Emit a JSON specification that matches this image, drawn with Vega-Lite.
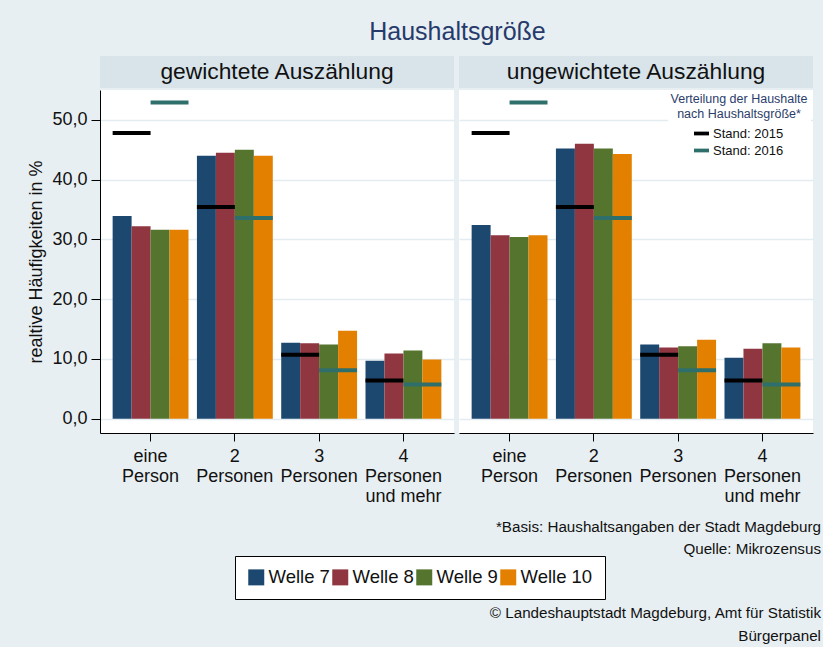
{
  "$schema": "https://vega.github.io/schema/vega-lite/v6.json",
  "background": "#e8eff2",
  "padding": {"left": 27, "top": 20, "right": 2, "bottom": 5},
  "config": {
    "font": "Liberation Sans",
    "view": {"stroke": null},
    "axis": {"labelFont": "Liberation Sans", "titleFont": "Liberation Sans", "labelColor": "#111", "titleColor": "#111"},
    "legend": {"labelFont": "Liberation Sans", "titleFont": "Liberation Sans"}
  },
  "datasets": {
    "bars": [
      {"Auswertung": "gewichtet", "Gruppe": "eine Person", "Welle": "Welle 7", "Wert": 33.9},
      {"Auswertung": "gewichtet", "Gruppe": "eine Person", "Welle": "Welle 8", "Wert": 32.2},
      {"Auswertung": "gewichtet", "Gruppe": "eine Person", "Welle": "Welle 9", "Wert": 31.6},
      {"Auswertung": "gewichtet", "Gruppe": "eine Person", "Welle": "Welle 10", "Wert": 31.6},
      {"Auswertung": "gewichtet", "Gruppe": "2 Personen", "Welle": "Welle 7", "Wert": 44.0},
      {"Auswertung": "gewichtet", "Gruppe": "2 Personen", "Welle": "Welle 8", "Wert": 44.5},
      {"Auswertung": "gewichtet", "Gruppe": "2 Personen", "Welle": "Welle 9", "Wert": 45.0},
      {"Auswertung": "gewichtet", "Gruppe": "2 Personen", "Welle": "Welle 10", "Wert": 44.0},
      {"Auswertung": "gewichtet", "Gruppe": "3 Personen", "Welle": "Welle 7", "Wert": 12.7},
      {"Auswertung": "gewichtet", "Gruppe": "3 Personen", "Welle": "Welle 8", "Wert": 12.6},
      {"Auswertung": "gewichtet", "Gruppe": "3 Personen", "Welle": "Welle 9", "Wert": 12.4},
      {"Auswertung": "gewichtet", "Gruppe": "3 Personen", "Welle": "Welle 10", "Wert": 14.7},
      {"Auswertung": "gewichtet", "Gruppe": "4 Personen und mehr", "Welle": "Welle 7", "Wert": 9.7},
      {"Auswertung": "gewichtet", "Gruppe": "4 Personen und mehr", "Welle": "Welle 8", "Wert": 10.9},
      {"Auswertung": "gewichtet", "Gruppe": "4 Personen und mehr", "Welle": "Welle 9", "Wert": 11.4},
      {"Auswertung": "gewichtet", "Gruppe": "4 Personen und mehr", "Welle": "Welle 10", "Wert": 9.9},
      {"Auswertung": "ungewichtet", "Gruppe": "eine Person", "Welle": "Welle 7", "Wert": 32.4},
      {"Auswertung": "ungewichtet", "Gruppe": "eine Person", "Welle": "Welle 8", "Wert": 30.7},
      {"Auswertung": "ungewichtet", "Gruppe": "eine Person", "Welle": "Welle 9", "Wert": 30.4},
      {"Auswertung": "ungewichtet", "Gruppe": "eine Person", "Welle": "Welle 10", "Wert": 30.7},
      {"Auswertung": "ungewichtet", "Gruppe": "2 Personen", "Welle": "Welle 7", "Wert": 45.2},
      {"Auswertung": "ungewichtet", "Gruppe": "2 Personen", "Welle": "Welle 8", "Wert": 46.0},
      {"Auswertung": "ungewichtet", "Gruppe": "2 Personen", "Welle": "Welle 9", "Wert": 45.2},
      {"Auswertung": "ungewichtet", "Gruppe": "2 Personen", "Welle": "Welle 10", "Wert": 44.3},
      {"Auswertung": "ungewichtet", "Gruppe": "3 Personen", "Welle": "Welle 7", "Wert": 12.4},
      {"Auswertung": "ungewichtet", "Gruppe": "3 Personen", "Welle": "Welle 8", "Wert": 11.9},
      {"Auswertung": "ungewichtet", "Gruppe": "3 Personen", "Welle": "Welle 9", "Wert": 12.1},
      {"Auswertung": "ungewichtet", "Gruppe": "3 Personen", "Welle": "Welle 10", "Wert": 13.2},
      {"Auswertung": "ungewichtet", "Gruppe": "4 Personen und mehr", "Welle": "Welle 7", "Wert": 10.2},
      {"Auswertung": "ungewichtet", "Gruppe": "4 Personen und mehr", "Welle": "Welle 8", "Wert": 11.7},
      {"Auswertung": "ungewichtet", "Gruppe": "4 Personen und mehr", "Welle": "Welle 9", "Wert": 12.6},
      {"Auswertung": "ungewichtet", "Gruppe": "4 Personen und mehr", "Welle": "Welle 10", "Wert": 11.9}
    ],
    "ref": [
      {"Gruppe": "eine Person", "Stand": "Stand: 2015", "Wert": 47.8},
      {"Gruppe": "eine Person", "Stand": "Stand: 2016", "Wert": 52.9},
      {"Gruppe": "2 Personen", "Stand": "Stand: 2015", "Wert": 35.4},
      {"Gruppe": "2 Personen", "Stand": "Stand: 2016", "Wert": 33.6},
      {"Gruppe": "3 Personen", "Stand": "Stand: 2015", "Wert": 10.7},
      {"Gruppe": "3 Personen", "Stand": "Stand: 2016", "Wert": 8.1},
      {"Gruppe": "4 Personen und mehr", "Stand": "Stand: 2015", "Wert": 6.4},
      {"Gruppe": "4 Personen und mehr", "Stand": "Stand: 2016", "Wert": 5.7}
    ]
  },
  "title": {"text": "Haushaltsgröße", "fontSize": 25, "fontWeight": "normal", "color": "#263a6c", "anchor": "middle", "offset": 11, "dx": 33},
  "vconcat": [
    {
      "title": {
        "text": ["© Landeshauptstadt Magdeburg, Amt für Statistik", "Bürgerpanel"],
        "orient": "bottom", "anchor": "end", "align": "right", "fontSize": 15.2, "fontWeight": "normal", "color": "#111", "lineHeight": 23, "offset": 49, "dx": 0
      },
      "vconcat": [
        {
          "title": {
            "text": ["*Basis: Haushaltsangaben der Stadt Magdeburg", "Quelle: Mikrozensus"],
            "orient": "bottom", "anchor": "end", "align": "right", "fontSize": 15.2, "fontWeight": "normal", "color": "#111", "lineHeight": 22, "offset": 15, "dx": 8
          },
          "spacing": 5,
          "hconcat": [
            {
              "spacing": 2,
              "vconcat": [
                {
                  "width": 354, "height": 32,
                  "view": {"fill": "#d8e4ea", "stroke": null},
                  "data": {"values": [{"t": "gewichtete Auszählung"}]},
                  "mark": {"type": "text", "fontSize": 22.8, "color": "#111"},
                  "encoding": {"text": {"field": "t"}}
                },
                {
                  "width": 354, "height": 343,
                  "view": {"fill": "white", "stroke": null},
                  "resolve": {"scale": {"xOffset": "independent"}},
                  "layer": [
                    {
                      "data": {"name": "bars"},
                      "transform": [{"filter": "datum.Auswertung === 'gewichtet'"}],
                      "mark": {"type": "bar"},
                      "encoding": {
                        "x": {"field": "Gruppe", "type": "nominal", "sort": ["eine Person", "2 Personen", "3 Personen", "4 Personen und mehr"],
                          "scale": {"paddingInner": 0.1, "paddingOuter": 0.15},
                          "axis": {"title": null, "labelAngle": 0, "domainColor": "black", "tickColor": "black", "tickSize": 8, "labelFontSize": 18, "labelLineHeight": 20, "labelPadding": 6, "labelBaseline": "top",
                            "labelExpr": "datum.value === 'eine Person' ? ['eine', 'Person'] : datum.value === '4 Personen und mehr' ? ['4', 'Personen', 'und mehr'] : split(datum.value, ' ')"}},
                        "xOffset": {"field": "Welle", "type": "nominal", "sort": ["Welle 7", "Welle 8", "Welle 9", "Welle 10"], "scale": {"paddingInner": 0, "paddingOuter": 0}},
                        "y": {"field": "Wert", "type": "quantitative", "scale": {"domain": [-2.4, 55], "nice": false, "zero": false},
                          "axis": {"title": "realtive Häufigkeiten in %", "titleFontSize": 18, "titleFontWeight": "normal", "titlePadding": 6,
                            "values": [0, 5, 10, 15, 20, 25, 30, 35, 40, 45, 50, 55],
                            "labelExpr": "datum.value % 10 === 0 ? replace(format(datum.value, '.1f'), '.', ',') : ''",
                            "labelFontSize": 18, "labelPadding": 4, "tickSize": 9, "tickColor": "black", "domainColor": "black",
                            "grid": true, "gridColor": "#e3ecf0", "gridWidth": 1.5}},
                        "y2": {"datum": 0},
                        "color": {"field": "Welle", "type": "nominal", "sort": ["Welle 7", "Welle 8", "Welle 9", "Welle 10"],
                          "scale": {"domain": ["Welle 7", "Welle 8", "Welle 9", "Welle 10"], "range": ["#1c476f", "#8f3640", "#55752f", "#e38000"]},
                          "legend": {"orient": "none", "legendX": 135, "legendY": 500, "direction": "horizontal", "title": null, "fillColor": "white", "strokeColor": "black", "padding": 12,
                            "symbolType": "square", "symbolSize": 256, "symbolStrokeWidth": 0, "labelFontSize": 18.5, "labelOffset": 3, "columnPadding": 1, "labelColor": "#111"}}
                      }
                    },
                    {
                      "data": {"name": "ref"},
                      "mark": {"type": "bar", "yOffset": -2, "y2Offset": 2},
                      "encoding": {
                        "x": {"field": "Gruppe", "type": "nominal", "sort": ["eine Person", "2 Personen", "3 Personen", "4 Personen und mehr"]},
                        "xOffset": {"field": "Stand", "type": "nominal", "scale": {"paddingInner": 0, "paddingOuter": 0}},
                        "y": {"field": "Wert", "type": "quantitative"},
                        "y2": {"field": "Wert"},
                        "fill": {"field": "Stand", "type": "nominal",
                          "scale": {"domain": ["Stand: 2015", "Stand: 2016"], "range": ["#000000", "#2f6f6b"]},
                          "legend": {"orient": "none", "legendX": 568, "legendY": 34, "title": ["Verteilung der Haushalte", "nach Haushaltsgröße*"],
                            "titleFontSize": 12.5, "titleFontWeight": "normal", "titleColor": "#2b3d6b", "titleAlign": "center", "titleAnchor": "middle", "titlePadding": 6,
                            "fillColor": "white", "padding": 3, "symbolType": "M-1,-0.25H1V0.25H-1Z", "symbolSize": 225, "symbolStrokeWidth": 0, "labelFontSize": 13, "labelColor": "#111", "rowPadding": 2}}
                      }
                    }
                  ]
                }
              ]
            },
            {
              "spacing": 2,
              "vconcat": [
                {
                  "width": 354, "height": 32,
                  "view": {"fill": "#d8e4ea", "stroke": null},
                  "data": {"values": [{"t": "ungewichtete Auszählung"}]},
                  "mark": {"type": "text", "fontSize": 22.8, "color": "#111"},
                  "encoding": {"text": {"field": "t"}}
                },
                {
                  "width": 354, "height": 343,
                  "view": {"fill": "white", "stroke": null},
                  "resolve": {"scale": {"xOffset": "independent"}},
                  "layer": [
                    {
                      "data": {"name": "bars"},
                      "transform": [{"filter": "datum.Auswertung === 'ungewichtet'"}],
                      "mark": {"type": "bar"},
                      "encoding": {
                        "x": {"field": "Gruppe", "type": "nominal", "sort": ["eine Person", "2 Personen", "3 Personen", "4 Personen und mehr"],
                          "scale": {"paddingInner": 0.1, "paddingOuter": 0.15},
                          "axis": {"title": null, "labelAngle": 0, "domainColor": "black", "tickColor": "black", "tickSize": 8, "labelFontSize": 18, "labelLineHeight": 20, "labelPadding": 6, "labelBaseline": "top",
                            "labelExpr": "datum.value === 'eine Person' ? ['eine', 'Person'] : datum.value === '4 Personen und mehr' ? ['4', 'Personen', 'und mehr'] : split(datum.value, ' ')"}},
                        "xOffset": {"field": "Welle", "type": "nominal", "sort": ["Welle 7", "Welle 8", "Welle 9", "Welle 10"], "scale": {"paddingInner": 0, "paddingOuter": 0}},
                        "y": {"field": "Wert", "type": "quantitative", "scale": {"domain": [-2.4, 55], "nice": false, "zero": false},
                          "axis": {"title": null, "labels": false, "ticks": false, "domain": false,
                            "values": [0, 5, 10, 15, 20, 25, 30, 35, 40, 45, 50, 55],
                            "grid": true, "gridColor": "#e3ecf0", "gridWidth": 1.5}},
                        "y2": {"datum": 0},
                        "color": {"field": "Welle", "type": "nominal", "sort": ["Welle 7", "Welle 8", "Welle 9", "Welle 10"],
                          "scale": {"domain": ["Welle 7", "Welle 8", "Welle 9", "Welle 10"], "range": ["#1c476f", "#8f3640", "#55752f", "#e38000"]}}
                      }
                    },
                    {
                      "data": {"name": "ref"},
                      "mark": {"type": "bar", "yOffset": -2, "y2Offset": 2},
                      "encoding": {
                        "x": {"field": "Gruppe", "type": "nominal", "sort": ["eine Person", "2 Personen", "3 Personen", "4 Personen und mehr"]},
                        "xOffset": {"field": "Stand", "type": "nominal", "scale": {"paddingInner": 0, "paddingOuter": 0}},
                        "y": {"field": "Wert", "type": "quantitative"},
                        "y2": {"field": "Wert"},
                        "fill": {"field": "Stand", "type": "nominal",
                          "scale": {"domain": ["Stand: 2015", "Stand: 2016"], "range": ["#000000", "#2f6f6b"]}}
                      }
                    }
                  ]
                }
              ]
            }
          ]
        }
      ]
    }
  ]
}
